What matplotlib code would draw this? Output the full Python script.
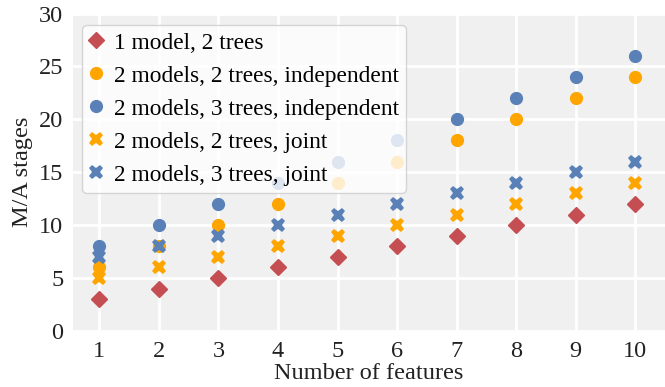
import matplotlib.pyplot as plt

features = [1, 2, 3, 4, 5, 6, 7, 8, 9, 10]
one_model_two_trees = [3, 4, 5, 6, 7, 8, 9, 10, 11, 12]
two_models_two_trees_indep = [6, 8, 10, 12, 14, 16, 18, 20, 22, 24]
two_models_three_trees_indep = [8, 10, 12, 14, 16, 18, 20, 22, 24, 26]
two_models_two_trees_joint = [5, 6, 7, 8, 9, 10, 11, 12, 13, 14]
two_models_three_trees_joint = [7, 8, 9, 10, 11, 12, 13, 14, 15, 16]

red = "#c44e52"
orange = "#ffa500"
blue = "#5a81b7"

plt.rcParams["font.family"] = ["Liberation Serif", "DejaVu Serif"]
plt.rcParams["font.size"] = 17.5

fig, ax = plt.subplots(figsize=(6.65, 3.87), dpi=100)
ax.set_facecolor("#f0f0f0")
ax.grid(color="white", linewidth=2)
ax.set_axisbelow(True)
for s in ax.spines.values():
    s.set_visible(False)
ax.tick_params(length=0, pad=7, colors="#222222")

ax.plot(features, one_model_two_trees, "D", color=red, ms=8, label="1 model, 2 trees")
ax.plot(features, two_models_two_trees_indep, "o", color=orange, ms=8.5, label="2 models, 2 trees, independent")
ax.plot(features, two_models_three_trees_indep, "o", color=blue, ms=8.5, label="2 models, 3 trees, independent")
ax.plot(features, two_models_two_trees_joint, "X", color=orange, ms=10.5, mew=0, label="2 models, 2 trees, joint")
ax.plot(features, two_models_three_trees_joint, "X", color=blue, ms=10.5, mew=0, label="2 models, 3 trees, joint")

ax.set_xlim(0.56, 10.5)
ax.set_ylim(0, 30)
ax.set_xticks(features)
ax.set_yticks([0, 5, 10, 15, 20, 25, 30])
ax.set_xlabel("Number of features", labelpad=1, color="#222222")
ax.set_ylabel("M/A stages", labelpad=4, color="#222222")

leg = ax.legend(loc="upper left", bbox_to_anchor=(-0.004, 1.0), fontsize=16.8,
                handletextpad=0.45, handlelength=0.6, borderpad=0.3, labelspacing=0.5,
                framealpha=0.8, fancybox=True)
leg.get_frame().set_edgecolor("#cccccc")

fig.subplots_adjust(left=0.11, right=1.0, bottom=0.145, top=0.965)
fig.savefig("out.png")
